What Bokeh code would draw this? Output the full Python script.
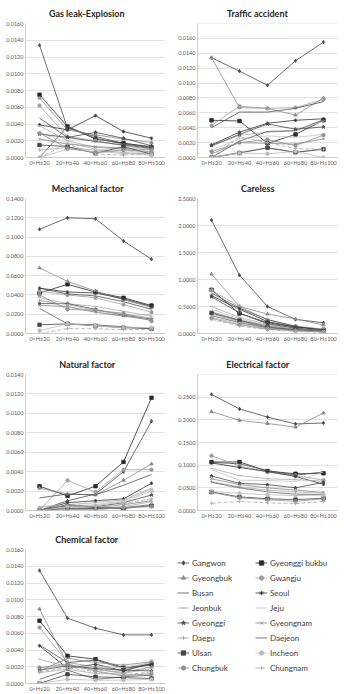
from bokeh.plotting import figure
from bokeh.models import (FixedTicker, NumeralTickFormatter, Title, Legend, LegendItem,
                          Range1d, FactorRange)
from bokeh.layouts import row, column
from bokeh.embed import file_html
from bokeh.resources import INLINE

heights = ["0<H≤20", "20<H≤40", "40<H≤60", "60<H≤80", "80<H≤100"]
regions = ["Gangwon", "Gyeonggi bukbu", "Gyeongbuk", "Gwangju", "Busan", "Seoul",
           "Jeonbuk", "Jeju", "Gyeonggi", "Gyeongnam", "Daegu", "Daejeon",
           "Ulsan", "Incheon", "Chungbuk", "Chungnam"]

gas_leak = [
    [0.0134, 0.0035, 0.0025, 0.0017, 0.0013],
    [0.0075, 0.0037, 0.0022, 0.0017, 0.0012],
    [0.0071, 0.0033, 0.0027, 0.0022, 0.0018],
    [0.0062, 0.0025, 0.0020, 0.0014, 0.0010],
    [0.0047, 0.0024, 0.0019, 0.0015, 0.0011],
    [0.0039, 0.0033, 0.0050, 0.0031, 0.0023],
    [0.0038, 0.0020, 0.0012, 0.0010, 0.0006],
    [0.0030, 0.0018, 0.0010, 0.0008, 0.0005],
    [0.0028, 0.0024, 0.0030, 0.0023, 0.0014],
    [0.0022, 0.0016, 0.0013, 0.0011, 0.0009],
    [0.0009, 0.0012, 0.0009, 0.0006, 0.0004],
    [0.0000, 0.0037, 0.0023, 0.0016, 0.0012],
    [0.0015, 0.0013, 0.0005, 0.0013, 0.0004],
    [0.0000, 0.0010, 0.0007, 0.0005, 0.0003],
    [0.0029, 0.0011, 0.0006, 0.0009, 0.0007],
    [0.0000, 0.0016, 0.0004, 0.0003, 0.0005],
]
traffic = [
    [0.0134, 0.0116, 0.0097, 0.0130, 0.0155],
    [0.0050, 0.0049, 0.0019, 0.0031, 0.0050],
    [0.0134, 0.0067, 0.0066, 0.0057, 0.0080],
    [0.0043, 0.0069, 0.0066, 0.0067, 0.0078],
    [0.0040, 0.0061, 0.0061, 0.0066, 0.0075],
    [0.0017, 0.0034, 0.0046, 0.0050, 0.0052],
    [0.0015, 0.0030, 0.0034, 0.0036, 0.0049],
    [0.0010, 0.0025, 0.0029, 0.0027, 0.0031],
    [0.0016, 0.0031, 0.0045, 0.0038, 0.0041],
    [0.0005, 0.0020, 0.0019, 0.0018, 0.0025],
    [0.0000, 0.0007, 0.0013, 0.0007, 0.0012],
    [0.0000, 0.0022, 0.0035, 0.0036, 0.0051],
    [0.0000, 0.0006, 0.0013, 0.0007, 0.0011],
    [0.0000, 0.0006, 0.0005, 0.0008, 0.0000],
    [0.0008, 0.0020, 0.0024, 0.0016, 0.0030],
    [0.0000, 0.0028, 0.0020, 0.0012, 0.0011],
]
mechanical = [
    [0.108, 0.120, 0.119, 0.096, 0.077],
    [0.042, 0.051, 0.043, 0.037, 0.029],
    [0.068, 0.054, 0.044, 0.035, 0.027],
    [0.044, 0.040, 0.037, 0.030, 0.022],
    [0.047, 0.041, 0.039, 0.033, 0.025],
    [0.047, 0.043, 0.042, 0.036, 0.028],
    [0.037, 0.031, 0.028, 0.023, 0.018],
    [0.035, 0.027, 0.023, 0.018, 0.020],
    [0.031, 0.031, 0.025, 0.019, 0.015],
    [0.029, 0.028, 0.022, 0.018, 0.014],
    [0.034, 0.030, 0.024, 0.020, 0.016],
    [0.026, 0.010, 0.009, 0.007, 0.005],
    [0.009, 0.010, 0.008, 0.006, 0.005],
    [0.003, 0.010, 0.008, 0.006, 0.006],
    [0.040, 0.025, 0.024, 0.021, 0.013],
    [0.000, 0.005, 0.005, 0.004, 0.004],
]
careless = [
    [2.10, 1.08, 0.50, 0.26, 0.20],
    [0.81, 0.37, 0.20, 0.12, 0.07],
    [1.10, 0.50, 0.36, 0.27, 0.16],
    [0.80, 0.50, 0.25, 0.14, 0.08],
    [0.75, 0.47, 0.26, 0.13, 0.07],
    [0.70, 0.45, 0.22, 0.12, 0.06],
    [0.50, 0.30, 0.17, 0.10, 0.05],
    [0.45, 0.27, 0.15, 0.09, 0.05],
    [0.68, 0.38, 0.18, 0.10, 0.05],
    [0.40, 0.25, 0.14, 0.08, 0.04],
    [0.36, 0.22, 0.11, 0.06, 0.04],
    [0.33, 0.20, 0.10, 0.06, 0.03],
    [0.38, 0.24, 0.12, 0.07, 0.04],
    [0.30, 0.18, 0.09, 0.05, 0.03],
    [0.28, 0.16, 0.08, 0.05, 0.03],
    [0.26, 0.14, 0.07, 0.04, 0.02],
]
natural = [
    [0.0000, 0.0010, 0.0017, 0.0040, 0.0092],
    [0.0025, 0.0015, 0.0025, 0.0050, 0.0116],
    [0.0023, 0.0017, 0.0016, 0.0031, 0.0048],
    [0.0000, 0.0031, 0.0019, 0.0042, 0.0042],
    [0.0013, 0.0017, 0.0016, 0.0026, 0.0037],
    [0.0000, 0.0008, 0.0010, 0.0012, 0.0028],
    [0.0004, 0.0006, 0.0008, 0.0011, 0.0023],
    [0.0000, 0.0005, 0.0006, 0.0010, 0.0022],
    [0.0000, 0.0005, 0.0004, 0.0008, 0.0016],
    [0.0000, 0.0004, 0.0003, 0.0006, 0.0010],
    [0.0000, 0.0003, 0.0002, 0.0004, 0.0009],
    [0.0000, 0.0006, 0.0003, 0.0003, 0.0006],
    [0.0000, 0.0002, 0.0002, 0.0002, 0.0005],
    [0.0000, 0.0004, 0.0005, 0.0009, 0.0020],
    [0.0000, 0.0001, 0.0001, 0.0003, 0.0004],
    [0.0003, 0.0005, 0.0004, 0.0007, 0.0012],
]
electrical = [
    [0.256, 0.224, 0.206, 0.191, 0.193],
    [0.107, 0.107, 0.087, 0.081, 0.082],
    [0.218, 0.199, 0.192, 0.184, 0.215],
    [0.121, 0.098, 0.085, 0.077, 0.067],
    [0.106, 0.103, 0.088, 0.078, 0.085],
    [0.105, 0.095, 0.086, 0.075, 0.058],
    [0.093, 0.077, 0.070, 0.068, 0.065],
    [0.090, 0.067, 0.066, 0.064, 0.085],
    [0.076, 0.060, 0.057, 0.050, 0.062],
    [0.070, 0.057, 0.050, 0.045, 0.040],
    [0.064, 0.052, 0.045, 0.041, 0.038],
    [0.062, 0.050, 0.041, 0.036, 0.035],
    [0.041, 0.030, 0.026, 0.024, 0.027],
    [0.042, 0.038, 0.035, 0.033, 0.034],
    [0.040, 0.028, 0.024, 0.020, 0.026],
    [0.016, 0.020, 0.017, 0.015, 0.020],
]
chemical = [
    [0.0135, 0.0078, 0.0066, 0.0058, 0.0058],
    [0.0075, 0.0033, 0.0029, 0.0019, 0.0023],
    [0.0089, 0.0023, 0.0017, 0.0013, 0.0020],
    [0.0067, 0.0025, 0.0020, 0.0015, 0.0026],
    [0.0046, 0.0025, 0.0028, 0.0018, 0.0022],
    [0.0045, 0.0018, 0.0023, 0.0015, 0.0024],
    [0.0029, 0.0020, 0.0017, 0.0012, 0.0018],
    [0.0018, 0.0022, 0.0020, 0.0019, 0.0025],
    [0.0016, 0.0021, 0.0018, 0.0016, 0.0015],
    [0.0015, 0.0030, 0.0025, 0.0022, 0.0026],
    [0.0013, 0.0017, 0.0012, 0.0011, 0.0010],
    [0.0005, 0.0016, 0.0005, 0.0008, 0.0010],
    [0.0000, 0.0011, 0.0008, 0.0007, 0.0006],
    [0.0000, 0.0005, 0.0004, 0.0004, 0.0005],
    [0.0019, 0.0023, 0.0015, 0.0009, 0.0012],
    [0.0014, 0.0019, 0.0014, 0.0010, 0.0014],
]

# styles per region
colors = ["#4a4a4a", "#2a2a2a", "#8a8a8a", "#9e9e9e", "#505050", "#333333",
          "#ababab", "#c4c4c4", "#4a4a4a", "#858585", "#a8a8a8", "#606060",
          "#454545", "#bdbdbd", "#909090", "#aaaaaa"]
markers = ["diamond", "square", "triangle", "circle", None, "asterisk",
           "dash", None, "star", "x", "cross", None,
           "square", "circle", "circle", "cross"]
dashes = ["solid"] * 15 + ["4 2"]

FONT = "Lato"
TICK_COLOR = "#595959"
TITLE_SIZE = 9


def est_width(text, size):
    w = 0.0
    for ch in text:
        if ch == " ":
            w += 0.2
        elif ch in "ilj-":
            w += 0.28
        elif ch in "frt":
            w += 0.36
        elif ch.isupper():
            w += 0.66
        elif ch in "mw":
            w += 0.8
        else:
            w += 0.52
    return w * size


def make_chart(title, data, ymax, ystep, h, top, bottom):
    p = figure(x_range=FactorRange(*heights), y_range=Range1d(0, ymax),
               width=172, height=h, output_backend="svg", toolbar_location=None,
               min_border_left=25, min_border_right=7,
               min_border_top=top, min_border_bottom=bottom,
               background_fill_color="white", border_fill_color="white")
    p.outline_line_color = None
    p.xgrid.grid_line_color = None
    p.ygrid.grid_line_color = "#d9d9d9"
    p.ygrid.grid_line_width = 0.8
    n = int(round(ymax / ystep))
    p.yaxis.ticker = FixedTicker(ticks=[i * ystep for i in range(n + 1)])
    p.yaxis.formatter = NumeralTickFormatter(format="0.0000")
    for ax in (p.xaxis[0], p.yaxis[0]):
        ax.axis_line_color = "#bfbfbf"
        ax.axis_line_width = 0.8
        ax.major_tick_line_color = None
        ax.minor_tick_line_color = None
        ax.major_tick_out = 0
        ax.major_tick_in = 0
        ax.major_label_text_font = FONT
        ax.major_label_text_font_size = "5.5px"
        ax.major_label_text_color = TICK_COLOR
        ax.major_label_standoff = 2
    for vals, c, m, d in zip(data, colors, markers, dashes):
        p.line(heights, vals, line_color=c, line_width=0.8, line_dash=d)
        if m is not None:
            p.scatter(heights, vals, marker=m, size=3.5, line_color=c,
                      fill_color=c, line_width=0.8)
    off = (86 - 25) - est_width(title, TITLE_SIZE) / 2
    p.add_layout(Title(text=title, align="left", offset=off, standoff=10,
                       text_font=FONT, text_font_style="bold",
                       text_font_size=f"{TITLE_SIZE}px", text_color="#262626"), "above")
    p.styles = {"outline": "1px solid #cccccc", "outline-offset": "-2px"}
    return p


p1 = make_chart("Gas leak-Explosion", gas_leak, 0.016, 0.002, 173, 23, 16)
p2 = make_chart("Traffic accident", traffic, 0.018, 0.002, 173, 23, 16)
p3 = make_chart("Mechanical factor", mechanical, 0.14, 0.02, 177, 25, 17)
p4 = make_chart("Careless", careless, 2.5, 0.5, 177, 25, 17)
p5 = make_chart("Natural factor", natural, 0.014, 0.002, 174, 24, 14)
p6 = make_chart("Electrical factor", electrical, 0.30, 0.05, 174, 24, 14)
p7 = make_chart("Chemical factor", chemical, 0.016, 0.002, 170, 25, 10)

# legend panel
lg = figure(width=172, height=170, output_backend="svg", toolbar_location=None,
            x_range=Range1d(0, 1), y_range=Range1d(0, 1),
            x_axis_type=None, y_axis_type=None, min_border=0,
            background_fill_color="white", border_fill_color="white")
lg.outline_line_color = None
lg.grid.visible = False
items = []
for name, c, m, d in zip(regions, colors, markers, dashes):
    rs = [lg.line([-2, -1], [-2, -1], line_color=c, line_width=0.8, line_dash=d)]
    if m is not None:
        rs.append(lg.scatter([-2], [-2], marker=m, size=3.5, line_color=c,
                             fill_color=c, line_width=0.8))
    items.append(LegendItem(label=name, renderers=rs))

for its, loc in ((items[0::2], (5, 10)), (items[1::2], (83, 10))):
    leg = Legend(items=its, location=loc, border_line_color=None,
                 background_fill_alpha=0, padding=0, margin=0, spacing=4,
                 glyph_width=12, glyph_height=11, label_height=11,
                 label_standoff=3, label_text_font=FONT,
                 label_text_font_size="8px", label_text_color="#404040")
    lg.add_layout(leg)

layout = column(row(p1, p2), row(p3, p4), row(p5, p6), row(p7, lg))
open("out.html", "w").write(file_html(layout, INLINE))
